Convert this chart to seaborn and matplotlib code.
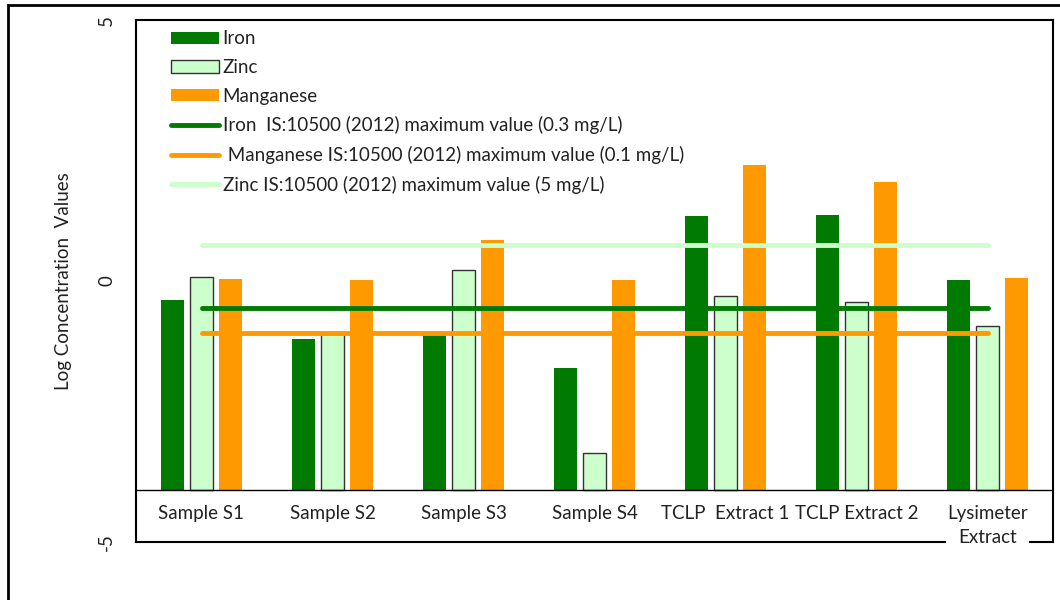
import numpy as np
import pandas as pd
import seaborn as sns
import matplotlib
from matplotlib import pyplot as plt
from matplotlib.patches import Rectangle

sns.set_theme(style='white')
plt.rcParams['font.family'] = ['Lato', 'DejaVu Sans']
plt.rc('axes', unicode_minus=False)

# data (log10 of concentration, mg/L)
categories = ['Sample S1', 'Sample S2', 'Sample S3', 'Sample S4',
              'TCLP  Extract 1', 'TCLP Extract 2', 'Lysimeter\nExtract']
metals = ['Iron', 'Zinc', 'Manganese']
iron = [-0.36, -1.11, -1.02, -1.66, 1.25, 1.27, 0.01]
zinc = [0.08, -1.02, 0.21, -3.30, -0.28, -0.40, -0.86]
manganese = [0.03, 0.01, 0.79, 0.01, 2.23, 1.89, 0.06]

# IS:10500 (2012) limits, as log10
limit_names = ['Iron  IS:10500 (2012) maximum value (0.3 mg/L)',
               ' Manganese IS:10500 (2012) maximum value (0.1 mg/L)',
               'Zinc IS:10500 (2012) maximum value (5 mg/L)']
limit_values = [np.log10(0.3), np.log10(0.1), np.log10(5)]

baseline = -4  # horizontal axis crosses here
y_ticks = [-5, 0, 5]

colors = {'Iron': '#007A00', 'Zinc': '#CCFFCC', 'Manganese': '#FF9900'}
limit_colors = ['#007A00', '#FF9900', '#CCFFCC']
fs = 13.5

bars = pd.DataFrame({
    'category': np.repeat(categories, 3),
    'metal': metals * len(categories),
    'value': np.ravel(np.column_stack([iron, zinc, manganese])),
})
bars['height'] = bars['value'] - baseline

limits = pd.DataFrame({
    'pos': np.tile(np.arange(len(categories)), len(limit_names)),
    'standard': np.repeat(limit_names, len(categories)),
    'value': np.repeat(limit_values, len(categories)),
})

fig = plt.figure(figsize=(10.6, 6), dpi=100)
ax = fig.add_axes([136 / 1060, 1 - 542 / 600, 917 / 1060, 522 / 600])

sns.barplot(data=bars, x='category', y='height', hue='metal', order=categories,
            hue_order=metals, palette=colors, saturation=1, bottom=baseline,
            width=0.664, gap=0.2, errorbar=None, linewidth=0, legend=False, ax=ax)
for p in ax.containers[1]:
    p.set_edgecolor('#333333')
    p.set_linewidth(1.0)

sns.lineplot(data=limits, x='pos', y='value', hue='standard', hue_order=limit_names,
             palette=limit_colors, linewidth=3.5, legend=False, ax=ax)

handles = list(ax.containers) + list(ax.lines)
labels = metals + limit_names
ax.legend(handles, labels, loc='upper left', bbox_to_anchor=(0.028, 0.998), frameon=False,
          fontsize=fs, handlelength=2.55, handleheight=0.65, handletextpad=0.2,
          labelspacing=0.62, borderaxespad=0.1, labelcolor='#222222')

ax.axhline(baseline, color='black', lw=1.0)
ax.set_xlim(-0.5, len(categories) - 0.5)
ax.set_ylim(-5, 5)
ax.set_yticks(y_ticks)
ax.set_yticklabels([str(v) for v in y_ticks], rotation=90, va='center', fontsize=fs,
                   color='#222222')
ax.tick_params(axis='y', pad=15, length=0)
ax.set_xticks([])
ax.set_xlabel('')
ax.set_ylabel('Log Concentration  Values', fontsize=fs, labelpad=19, color='#222222')

for i, cat in enumerate(categories):
    ax.text(i, baseline - 0.3, cat, ha='center', va='top', fontsize=fs,
            linespacing=1.45, color='#222222', clip_on=False, zorder=5,
            bbox=dict(facecolor='white', edgecolor='none', pad=1))

for s in ax.spines.values():
    s.set_visible(True)
    s.set_color('black')
    s.set_linewidth(1.5)

# outer border of the picture
fig.patches.append(Rectangle((8 / 1060, -0.1), 1.2, 1.1 - 5 / 600, transform=fig.transFigure,
                             fill=False, edgecolor='black', linewidth=2))

fig.savefig('out.png', dpi=100)
